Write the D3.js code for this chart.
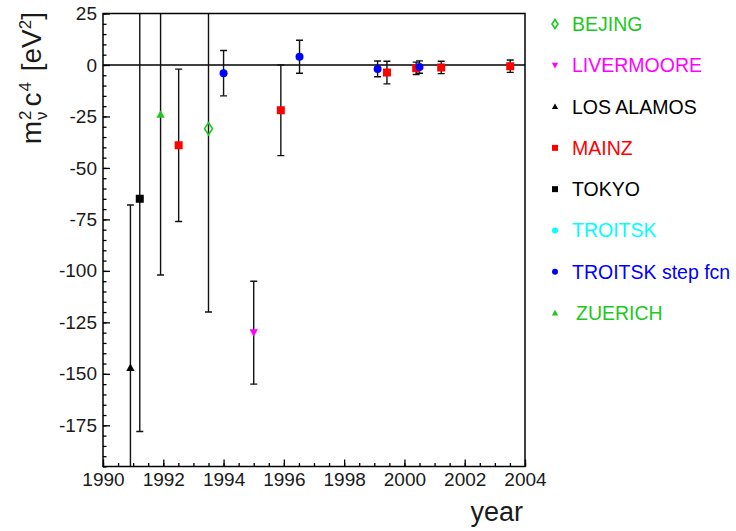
<!DOCTYPE html>
<html>
<head>
<meta charset="utf-8">
<script src="https://cdn.jsdelivr.net/npm/d3@7/dist/d3.min.js"></script>
<style>
  html, body { margin: 0; padding: 0; background: #fff; }
  svg { display: block; font-family: "Liberation Sans", Arial, Helvetica, sans-serif; }
</style>
</head>
<body>
<svg id="chart" width="736" height="531"></svg>
<script>
// Neutrino mass-squared measurements from tritium beta decay, by experiment and year
const experiments = ["BEJING", "LIVERMOORE", "LOS ALAMOS", "MAINZ", "TOKYO", "TROITSK", "TROITSK step fcn", "ZUERICH"];

const pointSource = ["LOS ALAMOS", "TOKYO", "ZUERICH", "MAINZ", "BEJING", "TROITSK step fcn", "LIVERMOORE", "MAINZ",
                     "TROITSK step fcn", "MAINZ", "MAINZ", "MAINZ", "MAINZ", "TROITSK step fcn", "TROITSK step fcn"];
const pointYear   = [1990.91, 1991.22, 1991.91, 1992.51, 1993.5, 1994.0, 1995.0, 1995.9,
                     1996.52, 1999.42, 2000.39, 2001.22, 2003.51, 1999.11, 2000.5];
const pointValue  = [-147, -65, -24, -39, -31, -4, -130, -22,
                     4, -3.7, -1.6, -1.2, -0.6, -1.9, -1.0];
const pointError  = [79, 113, 78, 37, 89, 11, 25, 22,
                     8, 5.5, 3.0, 3.0, 3.0, 3.8, 3.0];

const yearTicks  = [1990, 1992, 1994, 1996, 1998, 2000, 2002, 2004];
const valueTicks = [25, 0, -25, -50, -75, -100, -125, -150, -175];

// marker appearance per experiment
const green = "#1ec81e";
const style = {
  "BEJING":           { shape: "diamondOpen", color: green },
  "LIVERMOORE":       { shape: "triDown",     color: "#ff00ff" },
  "LOS ALAMOS":       { shape: "triUp",       color: "#000000" },
  "MAINZ":            { shape: "square",      color: "#ff0000" },
  "TOKYO":            { shape: "square",      color: "#000000" },
  "TROITSK":          { shape: "circle",      color: "#00ffff" },
  "TROITSK step fcn": { shape: "circle",      color: "#0000ff" },
  "ZUERICH":          { shape: "triUp",       color: green }
};

const svg = d3.select("#chart");
const frameLeft = 103, frameRight = 525, frameTop = 13.5, frameBottom = 466.5;

const x = d3.scaleLinear().domain([1990, 2004]).range([frameLeft, frameRight]);
const y = d3.scaleLinear().domain([-195, 25]).range([frameBottom, frameTop]);

// marker path generator; s = nominal size in px
function markerPath(shape, s) {
  const h = s / 2;
  switch (shape) {
    case "square": return `M${-h},${-h}H${h}V${h}H${-h}Z`;
    case "triUp": return `M0,${-h * 1.05}L${h * 1.05},${h * 0.85}L${-h * 1.05},${h * 0.85}Z`;
    case "triDown": return `M0,${h * 1.05}L${h * 1.05},${-h * 0.85}L${-h * 1.05},${-h * 0.85}Z`;
    case "diamondOpen": return `M0,${-h * 1.5}L${h},0L0,${h * 1.5}L${-h},0Z`;
    case "circle": return d3.symbol(d3.symbolCircle, Math.PI * h * h)();
  }
}

function drawMarker(g, name, s) {
  const st = style[name];
  const p = g.append("path").attr("d", markerPath(st.shape, s));
  if (st.shape === "diamondOpen") {
    p.attr("fill", "none").attr("stroke", st.color).attr("stroke-width", 1.6);
  } else {
    p.attr("fill", st.color);
  }
}

// clip region for the plot frame
svg.append("defs").append("clipPath").attr("id", "plotclip")
  .append("rect").attr("x", frameLeft).attr("y", frameTop)
  .attr("width", frameRight - frameLeft).attr("height", frameBottom - frameTop);

// axes: inward ticks, major + minor; plain hyphen for negative labels
const fontSize = 19;
const plainFormat = d => String(d);
const yMajor = d3.axisLeft(y).tickValues(valueTicks).tickSize(-7).tickPadding(6).tickFormat(plainFormat);
const yMinor = d3.axisLeft(y).tickValues(d3.range(-195, 25.01, 5)).tickSize(-3.5).tickFormat("");
const xMajor = d3.axisBottom(x).tickValues(yearTicks).tickSize(-7).tickPadding(6.5).tickFormat(plainFormat);
const xMinor = d3.axisBottom(x).tickValues(d3.range(1990, 2004.01, 0.5)).tickSize(-3.5).tickFormat("");

function styleAxis(g) {
  g.select(".domain").remove();
  g.selectAll(".tick line").attr("stroke", "#000").attr("stroke-width", 1.3);
  g.selectAll(".tick text").attr("fill", "#1a1a1a").style("font-size", fontSize + "px")
    .style("font-family", "'Liberation Sans', Arial, sans-serif");
}

svg.append("g").attr("transform", `translate(${frameLeft},0)`).call(yMinor).call(styleAxis);
svg.append("g").attr("transform", `translate(${frameLeft},0)`).call(yMajor).call(styleAxis);
svg.append("g").attr("transform", `translate(0,${frameBottom})`).call(xMinor).call(styleAxis);
svg.append("g").attr("transform", `translate(0,${frameBottom})`).call(xMajor).call(styleAxis);

// zero line
svg.append("line").attr("x1", frameLeft).attr("x2", frameRight).attr("y1", y(0)).attr("y2", y(0))
  .attr("stroke", "#000").attr("stroke-width", 1.3);

// error bars
const plot = svg.append("g").attr("clip-path", "url(#plotclip)");
const [yLo, yHi] = y.domain();
pointYear.forEach((yr, i) => {
  const v = pointValue[i], e = pointError[i];
  const cx = x(yr);
  plot.append("line").attr("x1", cx).attr("x2", cx)
    .attr("y1", y(v - e)).attr("y2", y(v + e))
    .attr("stroke", "#111").attr("stroke-width", 1.4);
  [v - e, v + e].forEach(end => {
    if (end > yLo && end < yHi) {
      plot.append("line").attr("x1", cx - 3.5).attr("x2", cx + 3.5)
        .attr("y1", y(end)).attr("y2", y(end))
        .attr("stroke", "#111").attr("stroke-width", 1.4);
    }
  });
});

// markers
pointYear.forEach((yr, i) => {
  const g = plot.append("g").attr("transform", `translate(${x(yr)},${y(pointValue[i])})`);
  drawMarker(g, pointSource[i], 8);
});

// frame
svg.append("rect").attr("x", frameLeft).attr("y", frameTop)
  .attr("width", frameRight - frameLeft).attr("height", frameBottom - frameTop)
  .attr("fill", "none").attr("stroke", "#000").attr("stroke-width", 1.5);

// legend
const legendY = d3.scalePoint().domain(experiments).range([24, 313]);
experiments.forEach(name => {
  const cy = legendY(name);
  const g = svg.append("g").attr("transform", `translate(555,${cy})`);
  drawMarker(g, name, 6);
  svg.append("text").attr("x", name === "ZUERICH" ? 576 : 572).attr("y", cy + 7)
    .attr("fill", style[name].color)
    .style("font-size", "19.5px")
    .text(name);
});

// axis titles
svg.append("text").attr("x", 523).attr("y", 521).attr("text-anchor", "end")
  .style("font-size", "27px").attr("fill", "#1a1a1a").text("year");

const yt = svg.append("text").attr("transform", "translate(41,12) rotate(-90)")
  .attr("text-anchor", "end").attr("fill", "#1a1a1a").style("font-size", "28px");
yt.append("tspan").text("m");
yt.append("tspan").attr("dx", 1).attr("dy", -10).style("font-size", "17px").text("2");
yt.append("tspan").attr("dx", -9.5).attr("dy", 16).style("font-size", "17px").text("ν");
yt.append("tspan").attr("dx", 5).attr("dy", -6).text("c");
yt.append("tspan").attr("dx", 1).attr("dy", -10).style("font-size", "17px").text("4");
yt.append("tspan").attr("dx", 3).attr("dy", 10).text(" [eV");
yt.append("tspan").attr("dy", -10).style("font-size", "17px").text("2");
yt.append("tspan").attr("dy", 10).text("]");
</script>
</body>
</html>
